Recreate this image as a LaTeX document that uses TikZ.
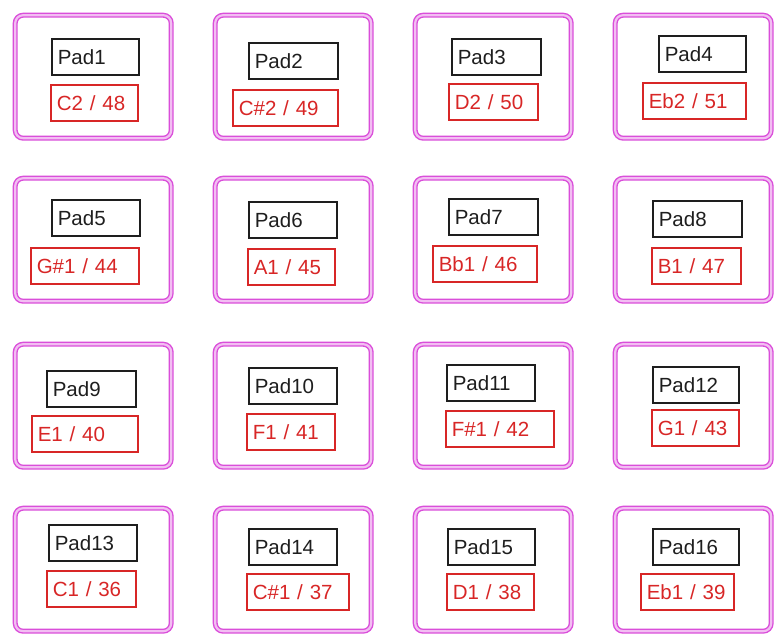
\documentclass[tikz,border=0pt]{standalone}
\usepackage{fontspec}
\setmainfont{Liberation Sans}
\definecolor{framepink}{RGB}{218,78,218}
\definecolor{framefill}{RGB}{242,190,242}
\definecolor{notered}{RGB}{216,38,38}
\definecolor{padgray}{RGB}{30,30,30}
\tikzset{
  padframe/.style={draw=framepink,line width=1.4pt,double=framefill,
    double distance=2.2pt,rounded corners=8pt,anchor=north west,
    minimum width=156pt,minimum height=123pt,inner sep=0pt},
  namebox/.style={draw=padgray,line width=1.6pt,text=padgray,anchor=north west,
    minimum height=36pt,inner xsep=6pt,inner ysep=0pt,align=left,
    font=\fontsize{20.5}{24}\selectfont},
  notebox/.style={namebox,draw=notered,text=notered}
}
\begin{document}
\begin{tikzpicture}[x=1pt,y=-1pt]
\useasboundingbox[fill=white] (0,0) rectangle (779,634);
\foreach \n/\fx/\fy/\bx/\by/\bw/\rx/\ry/\rw/\note
  [evaluate=\bw as \bt using \bw-12, evaluate=\rw as \rt using \rw-12] in {
   1/12/12/51/38/87/50/84/87/{C2 / 48},
   2/212/12/248/42/89/232/89/105/{C\#2 / 49},
   3/412/12/451/38/89/448/83/89/{D2 / 50},
   4/612/12/658/35/87/642/82/103/{Eb2 / 51},
   5/12/175/51/199/88/30/247/108/{G\#1 / 44},
   6/212/175/248/201/88/247/248/87/{A1 / 45},
   7/412/175/448/198/89/432/245/104/{Bb1 / 46},
   8/612/175/652/200/89/651/247/89/{B1 / 47},
   9/12/341/46/370/89/31/415/106/{E1 / 40},
   10/212/341/248/367/88/246/413/88/{F1 / 41},
   11/412/341/446/364/88/445/410/108/{F\#1 / 42},
   12/612/341/652/366/86/651/409/87/{G1 / 43},
   13/12/505/48/524/88/46/570/89/{C1 / 36},
   14/212/505/248/528/88/246/573/102/{C\#1 / 37},
   15/412/505/447/528/87/446/573/87/{D1 / 38},
   16/612/505/652/528/86/640/573/93/{Eb1 / 39}}
{
  \node[padframe] (frame\n) at (\fx+2.5,\fy+2.5) {};
  \node[namebox,text width=\bt pt] (pad\n) at (\bx,\by) {Pad\n};
  \node[notebox,text width=\rt pt] (note\n) at (\rx,\ry) {\note};
}
\end{tikzpicture}
\end{document}
